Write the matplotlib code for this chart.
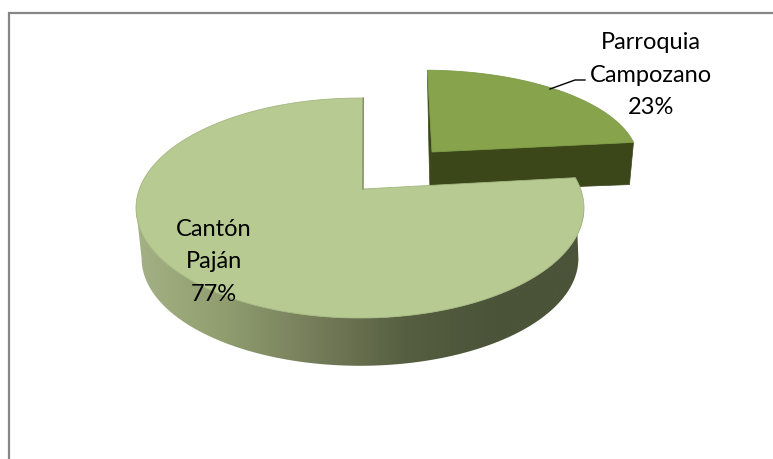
import matplotlib
matplotlib.use("Agg")
import matplotlib.pyplot as plt
from matplotlib.colors import LinearSegmentedColormap
from matplotlib.patches import Polygon
import numpy as np

labels = ["Parroquia\nCampozano\n23%", "Cantón\nPaján\n77%"]
values = [23, 77]
start_angle = 1.0

plt.rcParams["font.family"] = ["Lato", "DejaVu Sans"]


def rim(t0, t1, cx, cy, a, b, q):
    # projected circle, angles clockwise from the back of the pie
    t = np.radians(np.linspace(t0, t1, 240))
    u, v = np.sin(t), -np.cos(t)
    w = 1 - q * v
    return cx + a * u / w, cy + b * v / w


def lower(x, y, cx, cy, s, dy):
    return cx + s * (x - cx), cy + dy + s * (y - cy)


fig = plt.figure(figsize=(7.73, 4.59), dpi=100)
ax = fig.add_axes([0, 0, 1, 1])
ax.set_xlim(0, 773)
ax.set_ylim(459, 0)
ax.axis("off")

# chart border, only top and left show
ax.plot([773, 9, 9], [13, 13, 459], color="#868686", lw=1.6, solid_joinstyle="miter")

a0 = start_angle
a1 = a0 + values[0] / sum(values) * 360
a2 = a0 + 360

# small slice, pulled out
sx, sy = 432, 152
x, y = rim(a0, a1, sx - 8, sy, 213, 90, 0.10)
xb, yb = lower(x, y, sx, sy, 0.98, 42)
ax.add_patch(Polygon(np.r_[[[sx, sy]], [[x[-1], y[-1]]], [[xb[-1], yb[-1]]], [[sx - 2, sy + 40]]],
                     fc="#3b4619", ec="#3b4619", lw=0.5))
ax.add_patch(Polygon([[x[0], y[0]], [sx, sy], [sx - 2, sy + 40], [sx - 3, sy]],
                     fc="#3b4619", ec="#3b4619", lw=0.5))
ax.add_patch(Polygon(np.r_[[[sx, sy]], np.c_[x, y]], fc="#87a44d", ec="#7d9a45", lw=0.6))

# big slice
cx, cy = 360, 189
ax_apex, ay_apex = 363, 189
x, y = rim(a1, a2, cx, cy, 220.6, 106.7, 0.173)
xb, yb = lower(x, y, cx, cy, 0.975, 51)
wall = np.r_[np.c_[x[x.argmax():x.argmin() + 1], y[x.argmax():x.argmin() + 1]],
             np.c_[xb[x.argmax():x.argmin() + 1], yb[x.argmax():x.argmin() + 1]][::-1]]
wall = np.r_[[[x[0], y[0]]], [[xb[0], yb[0]]], wall]
shade = LinearSegmentedColormap.from_list(
    "wall", ["#a3b184", "#8f9d6f", "#757c5a", "#565f41", "#4b5338", "#4b5338"])
im = ax.imshow(np.linspace(0, 1, 256)[None, :], extent=[136, 585, 380, 170], cmap=shade,
               aspect="auto", zorder=2)
clip = Polygon(wall, transform=ax.transData)
im.set_clip_path(clip)
ax.set_xlim(0, 773)
ax.set_ylim(459, 0)

ax.add_patch(Polygon(np.r_[[[ax_apex, ay_apex]], np.c_[x, y]], fc="#b7ca92", ec="#a3b680", lw=0.6, zorder=3))
ax.plot([ax_apex, x[-1]], [ay_apex, y[-1]], color="#7f8f63", lw=1.0, zorder=4)

# leader line for the small slice
leader_x = [550, 575, 585]
leader_y = [89, 80, 80]
ax.plot(leader_x, leader_y, color="black", lw=1.0, zorder=4)

ax.text(651, 75, labels[0], ha="center", va="center", fontsize=17, linespacing=1.68,
        color="black", zorder=5)
ax.text(214, 262, labels[1], ha="center", va="center", fontsize=17, linespacing=1.68,
        color="black", zorder=5)

fig.savefig("out.png", dpi=100)
